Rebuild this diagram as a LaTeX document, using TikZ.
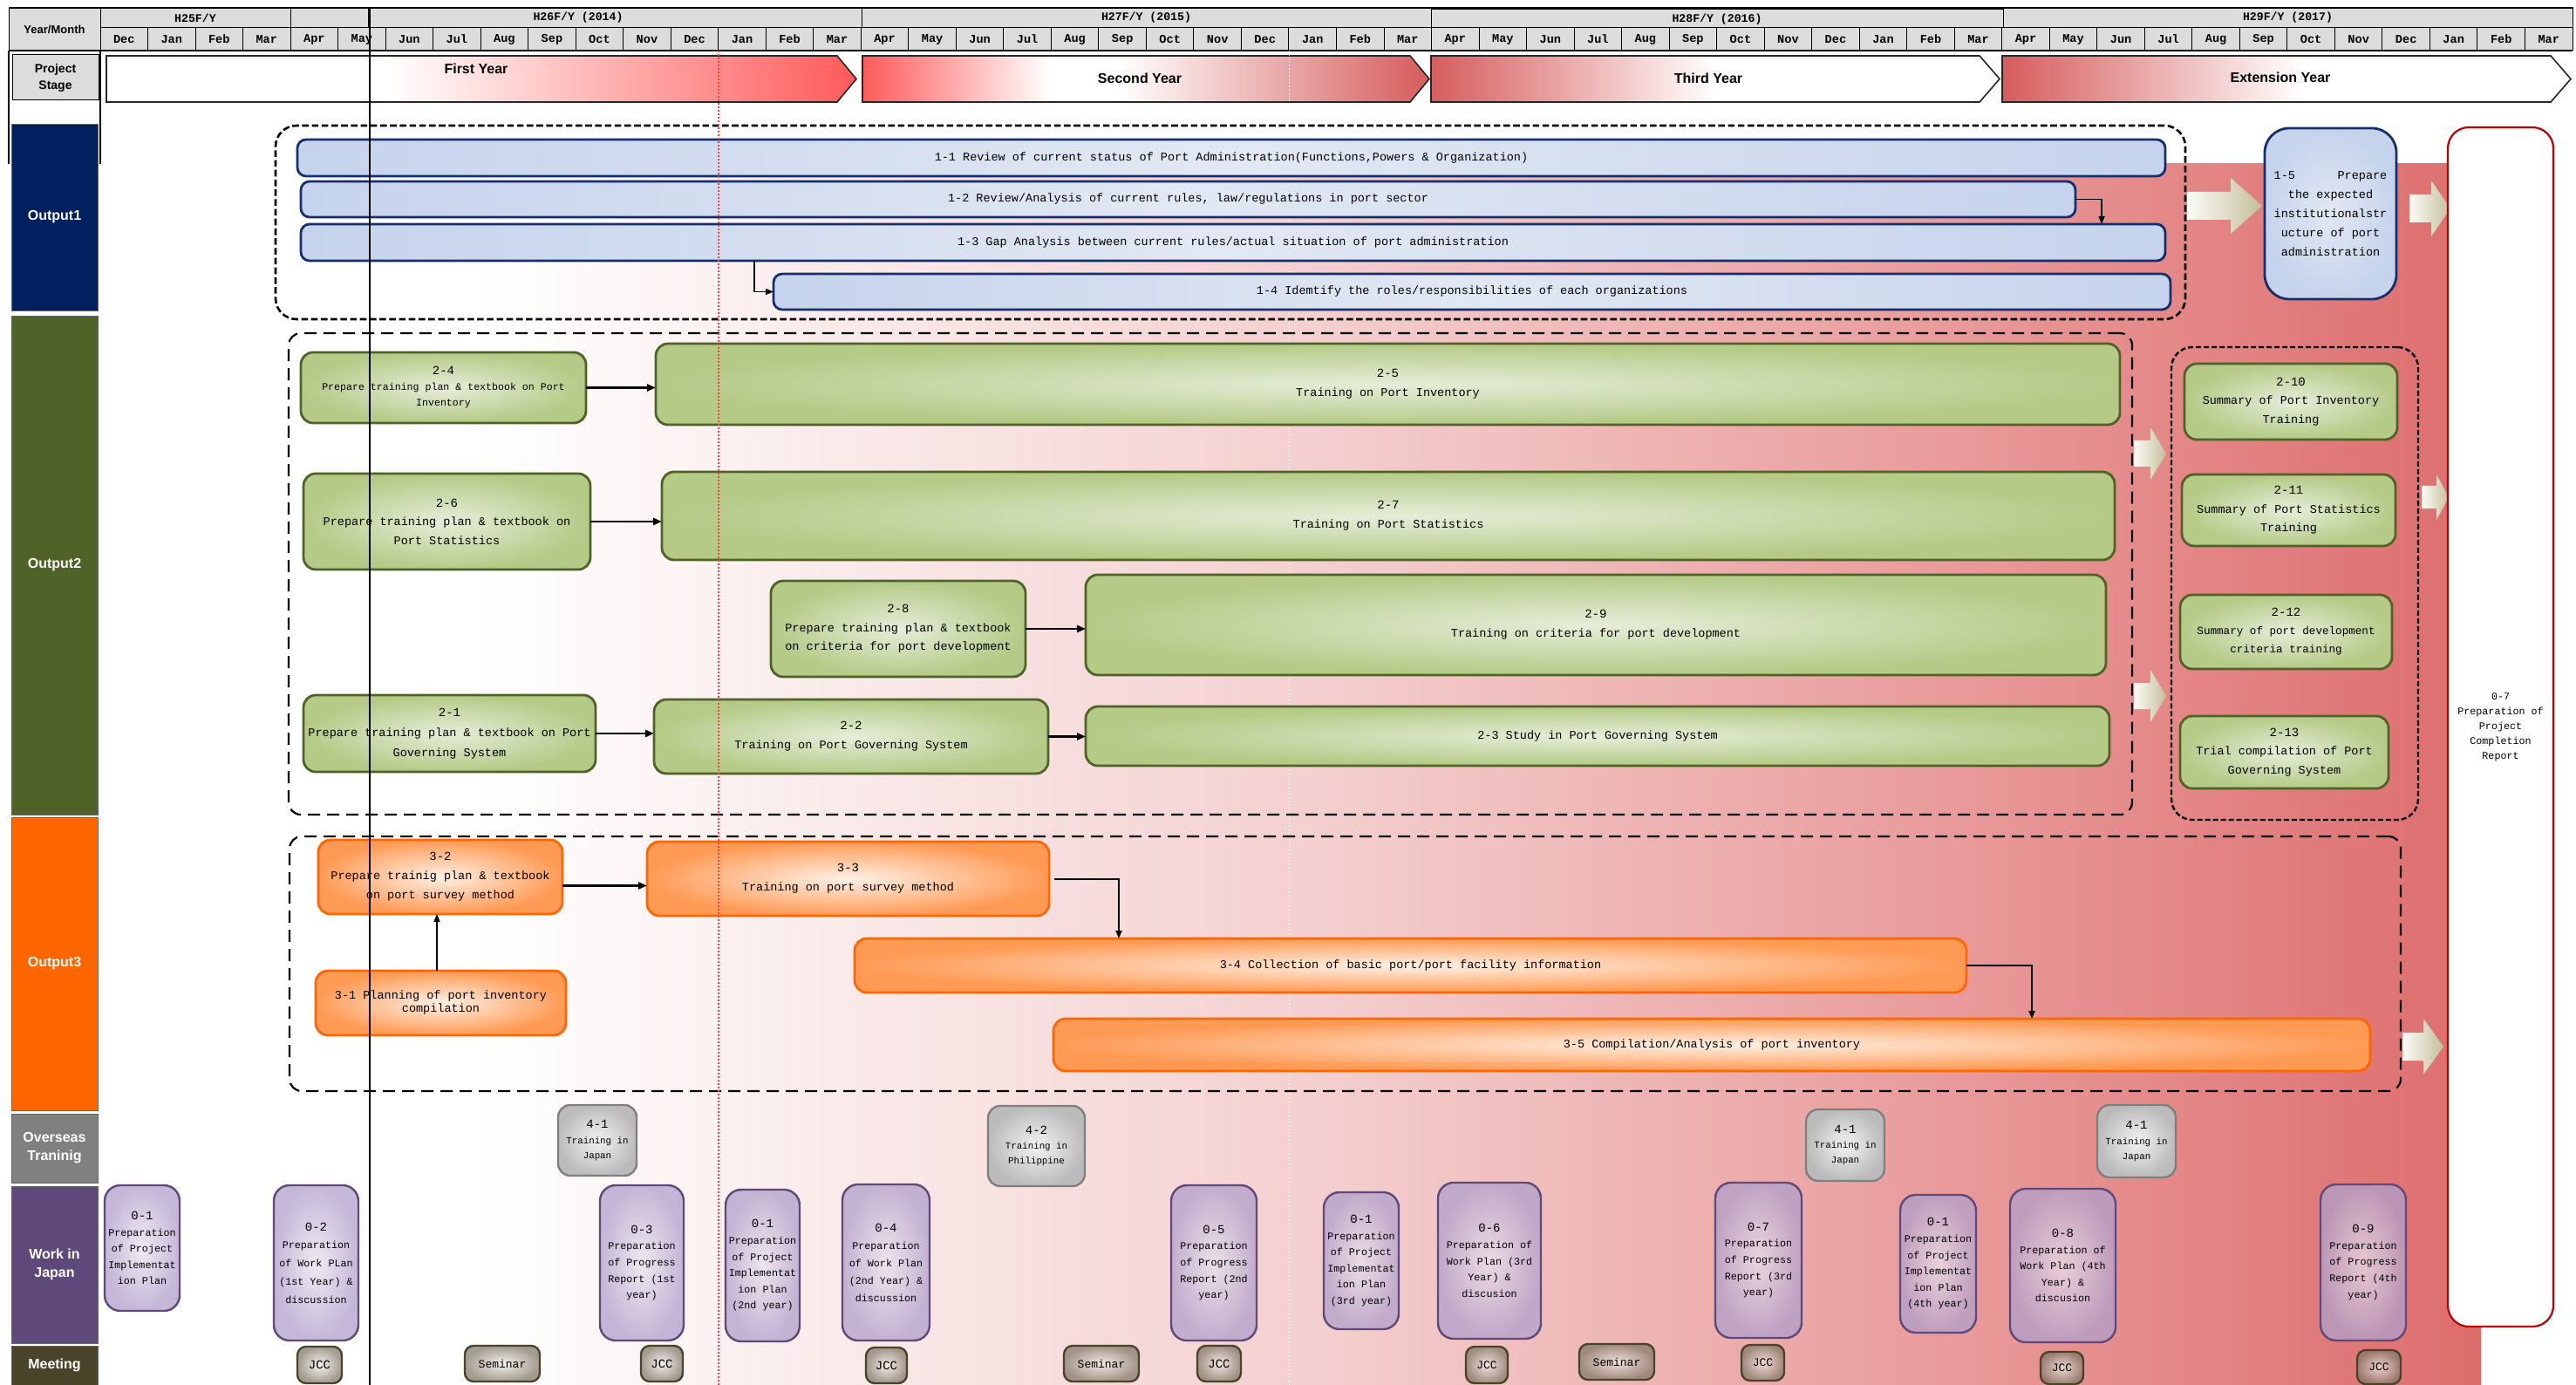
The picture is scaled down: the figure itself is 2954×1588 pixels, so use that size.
\documentclass[tikz,border=0pt]{standalone}
\usepackage{fontspec}
\setmainfont{Liberation Mono}
\newfontfamily\lsans{Liberation Sans}
\usetikzlibrary{arrows.meta}
\newcommand\fs[2]{\fontsize{#1}{#2}\selectfont}
\definecolor{blueL}{HTML}{C5D3EC}
\definecolor{blueM}{HTML}{E2E8F3}
\definecolor{blueB}{HTML}{142F6B}
\definecolor{greenI}{HTML}{E6EDD9}
\definecolor{greenO}{HTML}{B4CA86}
\definecolor{greenB}{HTML}{4F6228}
\definecolor{orgI}{HTML}{FFF1E6}
\definecolor{orgO}{HTML}{FF9A55}
\definecolor{orgB}{HTML}{FF6600}
\definecolor{grayI}{HTML}{F2F2F2}
\definecolor{grayO}{HTML}{BBBBBB}
\definecolor{grayB}{HTML}{7F7F7F}
\definecolor{purI}{HTML}{E9E3EF}
\definecolor{purO}{HTML}{B1A0CB}
\definecolor{purB}{HTML}{5F497A}
\definecolor{metI}{HTML}{F1EDE8}
\definecolor{metO}{HTML}{857B6B}
\definecolor{metB}{HTML}{494429}
\definecolor{baL}{HTML}{FCFCF8}
\definecolor{baR}{HTML}{C4BE9A}
\definecolor{oA}{HTML}{002060}
\definecolor{oB}{HTML}{4F6228}
\definecolor{oC}{HTML}{FF6600}
\definecolor{oD}{HTML}{808080}
\definecolor{oE}{HTML}{5F497A}
\definecolor{oF}{HTML}{494429}
\definecolor{stRa}{HTML}{FF5A5A}
\definecolor{stRb}{HTML}{D65C5C}
\definecolor{bgA}{HTML}{F4CFCF}
\definecolor{bgB}{HTML}{E99A9A}
\definecolor{bgC}{HTML}{DD6D6D}
\definecolor{hdrG}{HTML}{DCDCDC}
\definecolor{compR}{HTML}{C00000}
\pgfdeclarehorizontalshading{bgshade}{100bp}{color(0bp)=(white); color(27.5bp)=(white); color(47.5bp)=(bgA); color(62.5bp)=(bgB); color(75bp)=(bgC); color(100bp)=(bgC)}
\pgfdeclarehorizontalshading{firstyr}{100bp}{color(0bp)=(white); color(43.85bp)=(white); color(75bp)=(stRa); color(100bp)=(stRa)}
\pgfdeclarehorizontalshading{secondyr}{100bp}{color(0bp)=(stRa); color(25bp)=(stRa); color(41.5bp)=(white); color(47.5bp)=(white); color(75bp)=(stRb); color(100bp)=(stRb)}
\pgfdeclarehorizontalshading{thirdyr}{100bp}{color(0bp)=(stRb); color(25bp)=(stRb); color(50bp)=(white); color(100bp)=(white)}
\pgfdeclarehorizontalshading{extyr}{100bp}{color(0bp)=(stRb); color(25bp)=(stRb); color(51.5bp)=(white); color(100bp)=(white)}
\tikzset{
  hdrcell/.style={draw=black, line width=0.5pt, fill=hdrG, font=\bfseries\fs{6.6}{8}, align=center},
  hdrtxt/.style={font=\bfseries\fs{6.8}{8}},
  stagetxt/.style={font=\lsans\bfseries\fs{8}{10}},
  rowlab/.style={draw=black!60, line width=0.4pt, text=white, font=\lsans\bfseries\fs{8}{10.5}, align=center},
  bluebox/.style={draw=blueB, line width=1.4pt, rounded corners=5pt, left color=blueL, right color=blueL, middle color=blueM, font=\fs{6.75}{10.5}, align=center},
  blueround/.style={draw=blueB, line width=1.4pt, rounded corners=14pt, inner color=blueM, outer color=blueL, font=\fs{6.75}{11}, align=center},
  greenbox/.style={draw=greenB, line width=1.4pt, rounded corners=7pt, inner color=greenI, outer color=greenO, font=\fs{6.75}{10.8}, align=center},
  orgbox/.style={draw=orgB, line width=1.4pt, rounded corners=7pt, inner color=orgI, outer color=orgO, font=\fs{6.75}{11}, align=center},
  graybox/.style={draw=grayB, line width=1.2pt, rounded corners=7pt, inner color=grayI, outer color=grayO, font=\fs{5.4}{8.7}, align=center},
  purbox/.style={draw=purB, line width=1.2pt, rounded corners=9pt, inner color=purI, outer color=purO, fill opacity=0.75, draw opacity=1, text opacity=1, font=\fs{5.85}{9.3}, align=center},
  metbox/.style={draw=metB, line width=1.2pt, rounded corners=5pt, inner color=metI, outer color=metO, fill opacity=0.75, draw opacity=1, text opacity=1, font=\fs{6.5}{8}, align=center},
  compbox/.style={draw=compR, line width=1.1pt, rounded corners=12pt, fill=white, font=\fs{5.85}{8.5}, align=center},
  dboxa/.style={draw=black, line width=1.3pt, dash pattern=on 3.8pt off 1.8pt, rounded corners=12pt},
  dboxb/.style={draw=black, line width=1.1pt, dash pattern=on 7pt off 4pt, rounded corners=7pt},
  dboxc/.style={draw=black, line width=1.2pt, dash pattern=on 3pt off 1.5pt, rounded corners=12pt},
  arrthick/.style={line width=1.4pt, -{Triangle[length=5pt,width=4pt]}},
  arrthin/.style={line width=0.8pt, -{Triangle[length=4.5pt,width=3.5pt]}},
  arrmed/.style={line width=1pt, -{Triangle[length=4.5pt,width=3.5pt]}},
}
\newcommand\bx[7]{\node[#2, minimum width={(#5-(#3))*0.5pt}, minimum height={(#6-(#4))*0.5pt}] (#1) at ({(#3+#5)/2},{(#4+#6)/2}) {#7};}
\newcommand\barrow[6]{\shade[left color=baL, right color=baR] ({#1},{#4-#5}) -- ({#2},{#4-#5}) -- ({#2},{#4-#6}) -- ({#3},{#4}) -- ({#2},{#4+#6}) -- ({#2},{#4+#5}) -- ({#1},{#4+#5}) -- cycle;}
\newcommand\ttl[1]{{\fs{7}{9}#1}}
\begin{document}
\begin{tikzpicture}[x=0.5pt,y=-0.5pt, every node/.style={inner sep=0pt,outer sep=0pt}]
\useasboundingbox (0,0) rectangle (2954,1588);
\fill[white] (0,0) rectangle (2954,1588);
% background gradient
\shade[shading=bgshade] (424,188) rectangle (2845,1588);

% header
\bx{ym}{hdrcell, font=\lsans\bfseries\fs{6.5}{8}}{10}{9}{115}{58}{Year/Month}
\bx{yH25}{hdrcell}{115}{9}{333}{32}{H25F/Y}
\bx{yBl}{hdrcell}{333}{9}{422}{32}{}
\bx{yH26}{hdrcell}{422}{9}{988}{32}{}
\node[hdrtxt, font=\bfseries\fs{6.6}{8}] (tH26) at (663,20.5) {H26F/Y (2014)};
\bx{yH27}{hdrcell}{988}{9}{1641}{32}{H27F/Y (2015)}
\bx{yH28}{hdrcell}{1641}{11}{2297}{33}{H28F/Y (2016)}
\bx{yH29}{hdrcell}{2297}{9}{2950}{32}{H29F/Y (2017)}
\foreach \m [count=\i from 0] in {Dec,Jan,Feb,Mar,Apr,May,Jun,Jul,Aug,Sep,Oct,Nov,Dec,Jan,Feb,Mar,Apr,May,Jun,Jul,Aug,Sep,Oct,Nov,Dec,Jan,Feb,Mar,Apr,May,Jun,Jul,Aug,Sep,Oct,Nov,Dec,Jan,Feb,Mar,Apr,May,Jun,Jul,Aug,Sep,Oct,Nov,Dec,Jan,Feb,Mar}{
  \pgfmathsetmacro\xa{115+54.519*\i}
  \pgfmathsetmacro\xb{115+54.519*(\i+1)}
  \pgfmathsetmacro\xc{115+54.519*(\i+0.5)}
  \draw[line width=0.5pt, fill=hdrG] (\xa,32) rectangle (\xb,58);
  \node[hdrtxt] (mon\i) at (\xc,45) {\m};
}
\draw[line width=1.2pt] (10,9) -- (2950,9);
\draw[line width=1.2pt] (10,58) -- (2950,58);
\draw[line width=0.6pt] (10,58) -- (10,188);
\draw[line width=0.6pt] (115,58) -- (115,188);

% project stage row
\bx{ps}{hdrcell, font=\lsans\bfseries\fs{7}{9.5}}{14}{63}{113}{115}{Project\\Stage}
\shadedraw[shading=firstyr, draw=black!85, line width=0.8pt] (122,64) -- (960,64) -- (982,90.5) -- (960,117) -- (122,117) -- cycle;
\shadedraw[shading=secondyr, draw=black!85, line width=0.8pt] (989,64) -- (1617,64) -- (1639,90.5) -- (1617,117) -- (989,117) -- cycle;
\shadedraw[shading=thirdyr, draw=black!85, line width=0.8pt] (1641,64) -- (2270,64) -- (2293,90.5) -- (2270,117) -- (1641,117) -- cycle;
\shadedraw[shading=extyr, draw=black!85, line width=0.8pt] (2296,64) -- (2925,64) -- (2948,90.5) -- (2925,117) -- (2296,117) -- cycle;
\node[stagetxt] (sFirst) at (546,79) {First Year};
\node[stagetxt] (sSecond) at (1307,90) {Second Year};
\node[stagetxt] (sThird) at (1959,90) {Third Year};
\node[stagetxt] (sExt) at (2615,89) {Extension Year};

% faint white month line
\draw[white, opacity=0.8, line width=0.5pt, dash pattern=on 1pt off 1pt] (1478,58) -- (1478,1588);

% row labels
\bx{lo1}{rowlab, fill=oA}{13}{142}{112}{356}{Output1}
\bx{lo2}{rowlab, fill=oB}{13}{362}{112}{934}{Output2}
\bx{lo3}{rowlab, fill=oC}{13}{937}{112}{1273}{Output3}
\bx{lo4}{rowlab, fill=oD}{13}{1277}{112}{1356}{Overseas\\Traninig}
\bx{lo5}{rowlab, fill=oE}{13}{1360}{112}{1540}{Work in\\Japan}
\bx{lo6}{rowlab, fill=oF}{13}{1543}{112}{1588}{Meeting}

% dashed groups
\bx{d1}{dboxa}{316}{144}{2506}{366}{}
\bx{d2}{dboxb}{331}{382}{2445}{934}{}
\bx{d2r}{dboxc}{2490}{398}{2773}{940}{}
\bx{d3}{dboxb}{332}{959}{2753}{1251}{}

% block arrows
\barrow{2508}{2558}{2594}{236}{16}{32}
\barrow{2763}{2788}{2810}{239}{16}{32}
\barrow{2447}{2466}{2484}{520}{15}{30}
\barrow{2447}{2466}{2484}{798}{15}{30}
\barrow{2777}{2794}{2808}{570}{13}{26}
\barrow{2755}{2779}{2802}{1200}{16}{32}

% Output1
\bx{n11}{bluebox}{341}{160}{2483}{202}{1-1 Review of current status of Port Administration(Functions,Powers \& Organization)}
\bx{n12}{bluebox}{345}{208}{2380}{249}{1-2 Review/Analysis of current rules, law/regulations in port sector}
\bx{n13}{bluebox}{345}{257}{2483}{299}{1-3 Gap Analysis between current rules/actual situation of port administration}
\bx{n14}{bluebox}{887}{314}{2489}{355}{1-4 Idemtify the roles/responsibilities of each organizations}
\bx{n15}{blueround}{2597}{147}{2748}{343}{1-5\hspace{3.6em}Prepare\\the expected\\institutionalstr\\ucture of port\\administration}
\bx{n07c}{compbox}{2807}{146}{2928}{1521}{0-7\\Preparation of\\Project\\Completion\\Report}

% Output2
\bx{n24}{greenbox, font=\fs{5.8}{9}}{345}{404}{672}{485}{\ttl{2-4}\\Prepare training plan \& textbook on Port\\Inventory}
\bx{n25}{greenbox}{752}{394}{2431}{487}{\ttl{2-5}\\Training on Port Inventory}
\bx{n26}{greenbox}{348}{543}{677}{653}{\ttl{2-6}\\Prepare training plan \& textbook on\\Port Statistics}
\bx{n27}{greenbox}{759}{541}{2425}{642}{\ttl{2-7}\\Training on Port Statistics}
\bx{n28}{greenbox}{884}{666}{1176}{776}{\ttl{2-8}\\Prepare training plan \& textbook\\on criteria for port development}
\bx{n29}{greenbox}{1245}{659}{2415}{774}{\ttl{2-9}\\Training on criteria for port development}
\bx{n21}{greenbox, font=\fs{6.75}{11.5}}{348}{797}{683}{885}{\ttl{2-1}\\Prepare training plan \& textbook on Port\\Governing System}
\bx{n22}{greenbox}{750}{802}{1202}{887}{\ttl{2-2}\\Training on Port Governing System}
\bx{n23}{greenbox}{1245}{810}{2419}{878}{2-3 Study in Port Governing System}
\bx{n210}{greenbox}{2505}{417}{2749}{504}{\ttl{2-10}\\Summary of Port Inventory\\Training}
\bx{n211}{greenbox}{2502}{544}{2747}{626}{\ttl{2-11}\\Summary of Port Statistics\\Training}
\bx{n212}{greenbox, font=\fs{6.3}{10.5}}{2500}{682}{2743}{767}{\ttl{2-12}\\Summary of port development\\criteria training}
\bx{n213}{greenbox}{2500}{821}{2739}{904}{\ttl{2-13}\\Trial compilation of Port\\Governing System}

% Output3
\bx{n32}{orgbox}{365}{963}{645}{1048}{\ttl{3-2}\\Prepare trainig plan \& textbook\\on port survey method}
\bx{n33}{orgbox}{742}{965}{1203}{1050}{\ttl{3-3}\\Training on port survey method}
\bx{n31}{orgbox, font=\fs{6.75}{7.5}}{362}{1113}{649}{1187}{3-1 Planning of port inventory\\compilation}
\bx{n34}{orgbox}{980}{1076}{2255}{1138}{3-4 Collection of basic port/port facility information}
\bx{n35}{orgbox}{1208}{1168}{2718}{1228}{3-5 Compilation/Analysis of port inventory}

% connectors
\coordinate (cA) at (865,0);
\coordinate (cB) at (2410,0);
\coordinate (cC) at (501,0);
\coordinate (cD) at (1283,0);
\coordinate (cE) at (2330,0);
\draw[arrthin] (n13.south -| cA) |- (n14.west);
\draw[arrthin] (n12.east) -| (n13.north -| cB);
\draw[arrthick] (n24.east) -- (n24.east -| n25.west);
\draw[arrthick] (n26.east) -- (n26.east -| n27.west);
\draw[arrthick] (n28.east) -- (n28.east -| n29.west);
\draw[arrthick] (n21.east) -- (n21.east -| n22.west);
\draw[arrthick] (n22.east) -- (n22.east -| n23.west);
\draw[arrthin] (n31.north -| cC) -- (n32.south -| cC);
\coordinate (p32) at ([yshift=-5pt]n32.east);
\draw[arrthick] (p32) -- (p32 -| n33.west);
\draw[arrmed] ([xshift=3pt]n33.east) -| (n34.north -| cD);
\draw[arrmed] (n34.east) -| (n35.north -| cE);

% overseas training
\bx{t41a}{graybox}{640}{1267}{730}{1348}{\ttl{4-1}\\Training in\\Japan}
\bx{t42}{graybox}{1133}{1268}{1244}{1360}{\ttl{4-2}\\Training in\\Philippine}
\bx{t41b}{graybox}{2071}{1272}{2161}{1354}{\ttl{4-1}\\Training in\\Japan}
\bx{t41c}{graybox}{2405}{1267}{2495}{1350}{\ttl{4-1}\\Training in\\Japan}

% work in Japan
\bx{w01a}{purbox}{120}{1359}{206}{1503}{\ttl{0-1}\\Preparation\\of Project\\Implementat\\ion Plan}
\bx{w02}{purbox, font=\fs{5.85}{10.4}}{314}{1359}{411}{1537}{\ttl{0-2}\\Preparation\\of Work PLan\\(1st Year) \&\\discussion}
\bx{w03}{purbox}{688}{1359}{784}{1537}{\ttl{0-3}\\Preparation\\of Progress\\Report (1st\\year)}
\bx{w01b}{purbox}{832}{1364}{917}{1538}{\ttl{0-1}\\Preparation\\of Project\\Implementat\\ion Plan\\(2nd year)}
\bx{w04}{purbox, font=\fs{5.85}{10}}{966}{1358}{1066}{1537}{\ttl{0-4}\\Preparation\\of Work Plan\\(2nd Year) \&\\discussion}
\bx{w05}{purbox}{1343}{1359}{1441}{1537}{\ttl{0-5}\\Preparation\\of Progress\\Report (2nd\\year)}
\bx{w01c}{purbox}{1518}{1367}{1604}{1524}{\ttl{0-1}\\Preparation\\of Project\\Implementat\\ion Plan\\(3rd year)}
\bx{w06}{purbox}{1649}{1356}{1767}{1535}{\ttl{0-6}\\Preparation of\\Work Plan (3rd\\Year) \&\\discusion}
\bx{w07}{purbox}{1967}{1356}{2066}{1534}{\ttl{0-7}\\Preparation\\of Progress\\Report (3rd\\year)}
\bx{w01d}{purbox}{2179}{1370}{2266}{1528}{\ttl{0-1}\\Preparation\\of Project\\Implementat\\ion Plan\\(4th year)}
\bx{w08}{purbox}{2305}{1363}{2426}{1539}{\ttl{0-8}\\Preparation of\\Work Plan (4th\\Year) \&\\discusion}
\bx{w09}{purbox}{2661}{1358}{2759}{1537}{\ttl{0-9}\\Preparation\\of Progress\\Report (4th\\year)}

% meetings
\bx{m1}{metbox, font=\fs{7}{8}}{341}{1544}{392}{1586}{JCC}
\bx{m2}{metbox}{533}{1543}{619}{1584}{Seminar}
\bx{m3}{metbox, font=\fs{7}{8}}{735}{1543}{783}{1584}{JCC}
\bx{m4}{metbox, font=\fs{7}{8}}{993}{1545}{1040}{1586}{JCC}
\bx{m5}{metbox}{1220}{1543}{1306}{1584}{Seminar}
\bx{m6}{metbox, font=\fs{7}{8}}{1373}{1543}{1423}{1584}{JCC}
\bx{m7}{metbox, font=\fs{6.5}{8}}{1681}{1544}{1729}{1586}{JCC}
\bx{m8}{metbox}{1811}{1541}{1897}{1582}{Seminar}
\bx{m9}{metbox, font=\fs{6.5}{8}}{1997}{1542}{2046}{1583}{JCC}
\bx{m10}{metbox, font=\fs{6.5}{8}}{2340}{1550}{2389}{1587}{JCC}
\bx{m11}{metbox, font=\fs{6.5}{8}}{2703}{1548}{2753}{1587}{JCC}

% overlay lines
\draw[red!75, line width=0.6pt, dash pattern=on 1.2pt off 0.8pt] (824,58) -- (824,1588);
\draw[black, line width=1.3pt] (424,9) -- (424,1588);
\end{tikzpicture}
\end{document}
